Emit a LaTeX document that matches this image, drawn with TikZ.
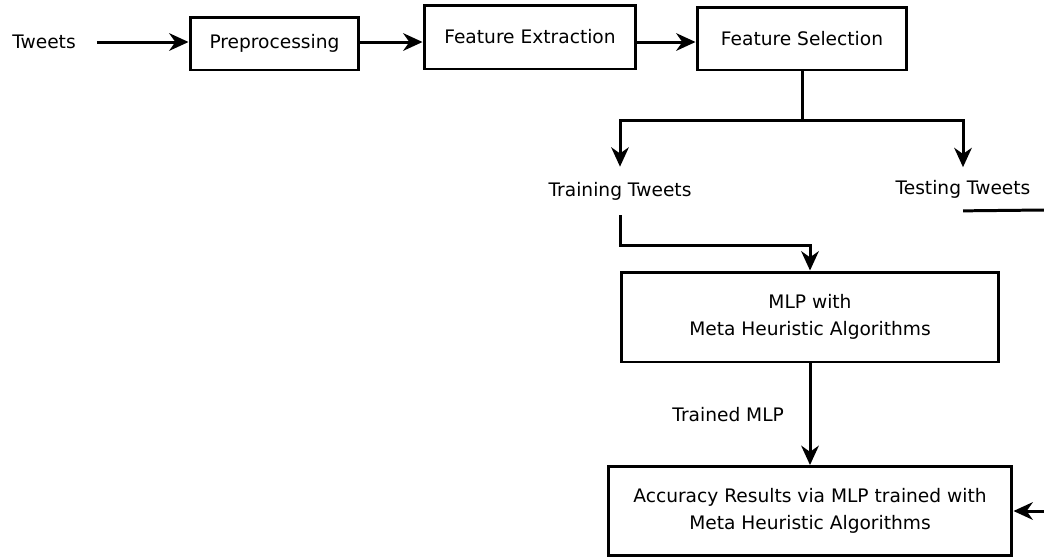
\documentclass[tikz,border=0pt]{standalone}
\usepackage{fontspec}
\setmainfont{DejaVu Sans}
\usepackage{tikz}
\usetikzlibrary{arrows.meta, positioning}

\begin{document}
\begin{tikzpicture}[
  x=0.02cm, y=-0.02cm,
  box/.style={draw, line width=1.7pt, align=center, font=\fontsize{10.6}{15}\selectfont, inner sep=2pt},
  txt/.style={align=center, font=\fontsize{10.6}{15}\selectfont, inner sep=2pt},
  arr/.style={-{Stealth[length=11pt, width=10pt, inset=3.5pt]}, line width=1.7pt},
  ln/.style={line width=1.7pt}
]
\useasboundingbox (0,0) rectangle (1044,556);
\node[txt, minimum width=2.1cm] (tweets) at (44,42) {Tweets};
\node[box, minimum width=3.38cm, minimum height=1.06cm] (pre)  at (274.5,43.5) {Preprocessing};
\node[box, minimum width=4.24cm, minimum height=1.28cm] (fext) at (530,37) {Feature Extraction};
\node[box, minimum width=4.2cm, minimum height=1.26cm]  (fsel) at (802,38.5) {Feature Selection};
\node[txt, minimum height=0.96cm] (train) at (620,191) {Training Tweets};
\node[txt, minimum height=0.86cm] (test)  at (963,189) {Testing Tweets};
\node[box, minimum width=7.56cm, minimum height=1.8cm] (mlp) at (810,317) {MLP with\\Meta Heuristic Algorithms};
\node[box, minimum width=8.08cm, minimum height=1.78cm] (acc) at (810,511) {Accuracy Results via MLP trained with\\Meta Heuristic Algorithms};
\coordinate (split) at (802,120);
\coordinate (turn) at (810,245);
\coordinate (testout) at (1044,210);
\coordinate (accin) at (1044,511);
\draw[arr] (tweets.east) -- (tweets.east -| pre.west);
\draw[arr] (pre.east |- tweets.east) -- (tweets.east -| fext.west);
\draw[arr] (fext.east |- tweets.east) -- (tweets.east -| fsel.west);
\draw[ln] (fsel.south) -- (split);
\draw[arr] (split) -| (train.north);
\draw[arr] (split) -| (test.north);
\draw[arr] (train.south) |- (turn) -- (mlp.north);
\draw[arr] (mlp) -- node[txt, left=12pt] {Trained MLP} (acc);
\draw[ln] (test.south) -- (testout);
\draw[arr] (accin) -- (acc.east);
\end{tikzpicture}
\end{document}
